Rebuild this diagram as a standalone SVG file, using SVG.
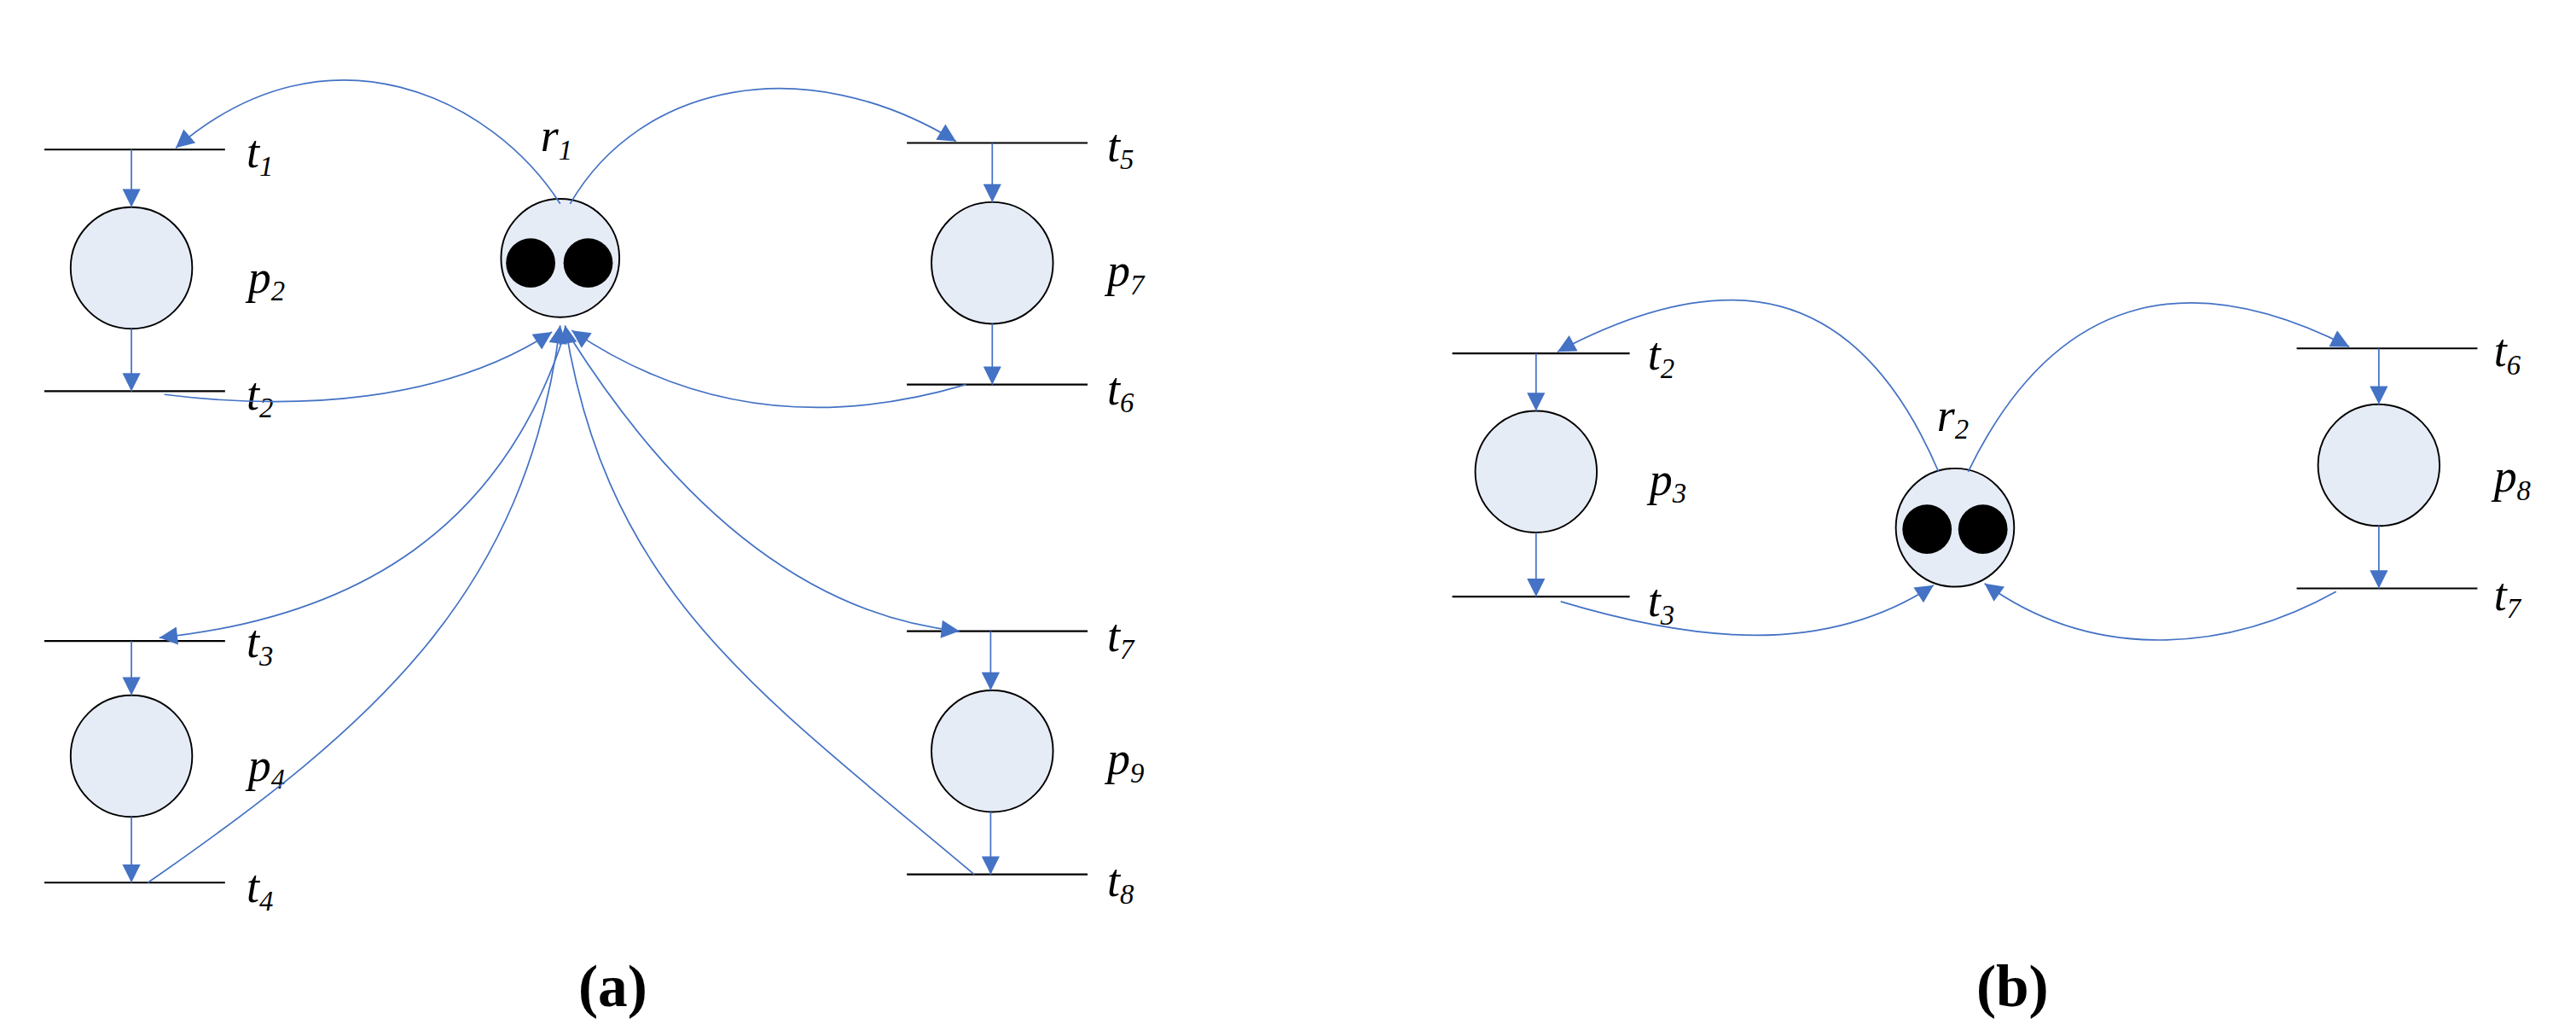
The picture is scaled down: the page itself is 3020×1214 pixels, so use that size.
<svg xmlns="http://www.w3.org/2000/svg" width="3020" height="1214" viewBox="0 0 3020 1214">
<style>
.tr{stroke:#000;stroke-width:1.1}
.pl{fill:#E6ECF6;stroke:#000;stroke-width:1}
.tk{fill:#000}
.c{fill:none;stroke:#4472C4;stroke-width:0.9}
.lb{font-family:"Liberation Serif",serif;font-style:italic;font-size:28px}
.sb{font-size:17px}
.cap{font-family:"Liberation Serif",serif;font-size:36px;font-weight:bold}
</style>
<defs>
<marker id="ah" viewBox="0 0 10 10" refX="10" refY="5" markerWidth="14" markerHeight="11" markerUnits="userSpaceOnUse" orient="auto"><path d="M0,0 L10,5 L0,10 z" fill="#4472C4"/></marker>
</defs>
<rect width="3020" height="1214" fill="#fff"/>
<g transform="scale(1.926)">
<g id="a-t1"><line class="tr" x1="27" y1="91" x2="137" y2="91"/><text class="lb" x="150" y="102">t<tspan class="sb" dy="5">1</tspan></text></g>
<g id="a-p2"><circle class="pl" cx="80" cy="163" r="37"/><text class="lb" x="151" y="178">p<tspan class="sb" dy="5">2</tspan></text></g>
<g id="a-t2"><line class="tr" x1="27" y1="238" x2="137" y2="238"/><text class="lb" x="150" y="249">t<tspan class="sb" dy="5">2</tspan></text></g>
<g id="a-r1"><circle class="pl" cx="341" cy="157" r="36"/><circle class="tk" cx="323" cy="160" r="15"/><circle class="tk" cx="358" cy="160" r="15"/><text class="lb" x="329" y="92">r<tspan class="sb" dy="5">1</tspan></text></g>
<g id="a-t5"><line class="tr" x1="552" y1="87" x2="662" y2="87"/><text class="lb" x="674" y="98">t<tspan class="sb" dy="5">5</tspan></text></g>
<g id="a-p7"><circle class="pl" cx="604" cy="160" r="37"/><text class="lb" x="674" y="174">p<tspan class="sb" dy="5">7</tspan></text></g>
<g id="a-t6"><line class="tr" x1="552" y1="234" x2="662" y2="234"/><text class="lb" x="674" y="246">t<tspan class="sb" dy="5">6</tspan></text></g>
<g id="a-t3"><line class="tr" x1="27" y1="390" x2="137" y2="390"/><text class="lb" x="150" y="400">t<tspan class="sb" dy="5">3</tspan></text></g>
<g id="a-p4"><circle class="pl" cx="80" cy="460" r="37"/><text class="lb" x="151" y="475">p<tspan class="sb" dy="5">4</tspan></text></g>
<g id="a-t4"><line class="tr" x1="27" y1="537" x2="137" y2="537"/><text class="lb" x="150" y="549">t<tspan class="sb" dy="5">4</tspan></text></g>
<g id="a-t7"><line class="tr" x1="552" y1="384" x2="662" y2="384"/><text class="lb" x="674" y="396">t<tspan class="sb" dy="5">7</tspan></text></g>
<g id="a-p9"><circle class="pl" cx="604" cy="457" r="37"/><text class="lb" x="674" y="471">p<tspan class="sb" dy="5">9</tspan></text></g>
<g id="a-t8"><line class="tr" x1="552" y1="532" x2="662" y2="532"/><text class="lb" x="674" y="545">t<tspan class="sb" dy="5">8</tspan></text></g>
<text class="cap" x="352" y="612">(a)</text>

<g id="b-t2"><line class="tr" x1="884" y1="215" x2="992" y2="215"/><text class="lb" x="1003" y="225">t<tspan class="sb" dy="5">2</tspan></text></g>
<g id="b-p3"><circle class="pl" cx="935" cy="287" r="37"/><text class="lb" x="1004" y="301">p<tspan class="sb" dy="5">3</tspan></text></g>
<g id="b-t3"><line class="tr" x1="884" y1="363" x2="992" y2="363"/><text class="lb" x="1003" y="375">t<tspan class="sb" dy="5">3</tspan></text></g>
<g id="b-r2"><circle class="pl" cx="1190" cy="321" r="36"/><circle class="tk" cx="1173" cy="322" r="15"/><circle class="tk" cx="1207" cy="322" r="15"/><text class="lb" x="1179" y="262">r<tspan class="sb" dy="5">2</tspan></text></g>
<g id="b-t6"><line class="tr" x1="1398" y1="212" x2="1508" y2="212"/><text class="lb" x="1518" y="223">t<tspan class="sb" dy="5">6</tspan></text></g>
<g id="b-p8"><circle class="pl" cx="1448" cy="283" r="37"/><text class="lb" x="1518" y="299">p<tspan class="sb" dy="5">8</tspan></text></g>
<g id="b-t7"><line class="tr" x1="1398" y1="358" x2="1508" y2="358"/><text class="lb" x="1518" y="371">t<tspan class="sb" dy="5">7</tspan></text></g>
<text class="cap" x="1203" y="612">(b)</text>

<g id="connectors" class="c">
<path class="c" marker-end="url(#ah)" d="M80,91 L80,126"/>
<path class="c" marker-end="url(#ah)" d="M80,200 L80,238"/>
<path class="c" marker-end="url(#ah)" d="M80,390 L80,423"/>
<path class="c" marker-end="url(#ah)" d="M80,497 L80,537"/>
<path class="c" marker-end="url(#ah)" d="M604,87 L604,123"/>
<path class="c" marker-end="url(#ah)" d="M604,197 L604,234"/>
<path class="c" marker-end="url(#ah)" d="M603,384 L603,420"/>
<path class="c" marker-end="url(#ah)" d="M603,494 L603,532"/>
<path class="c" marker-end="url(#ah)" d="M341,124 C300,60 200,10 107,90"/>
<path class="c" marker-end="url(#ah)" d="M347,124 C390,50 490,30 582,86"/>
<path class="c" marker-end="url(#ah)" d="M100,240 C180,250 270,245 336,202"/>
<path class="c" marker-end="url(#ah)" d="M588,234 C500,260 420,250 348,201"/>
<path class="c" marker-end="url(#ah)" d="M343,205 C305,320 220,375 97,388"/>
<path class="c" marker-end="url(#ah)" d="M347,205 C420,320 500,375 584,384"/>
<path class="c" marker-end="url(#ah)" d="M90,537 C230,440 320,360 341,198"/>
<path class="c" marker-end="url(#ah)" d="M593,532 C460,420 370,360 344,198"/>
<path class="c" marker-end="url(#ah)" d="M935,215 L935,250"/>
<path class="c" marker-end="url(#ah)" d="M935,324 L935,363"/>
<path class="c" marker-end="url(#ah)" d="M1448,212 L1448,246"/>
<path class="c" marker-end="url(#ah)" d="M1448,320 L1448,358"/>
<path class="c" marker-end="url(#ah)" d="M1180,287 C1130,170 1050,160 948,214"/>
<path class="c" marker-end="url(#ah)" d="M1198,287 C1250,180 1330,160 1430,211"/>
<path class="c" marker-end="url(#ah)" d="M950,366 C1030,390 1110,400 1177,356"/>
<path class="c" marker-end="url(#ah)" d="M1422,360 C1350,400 1270,400 1208,355"/>
</g>
</g>
</svg>
